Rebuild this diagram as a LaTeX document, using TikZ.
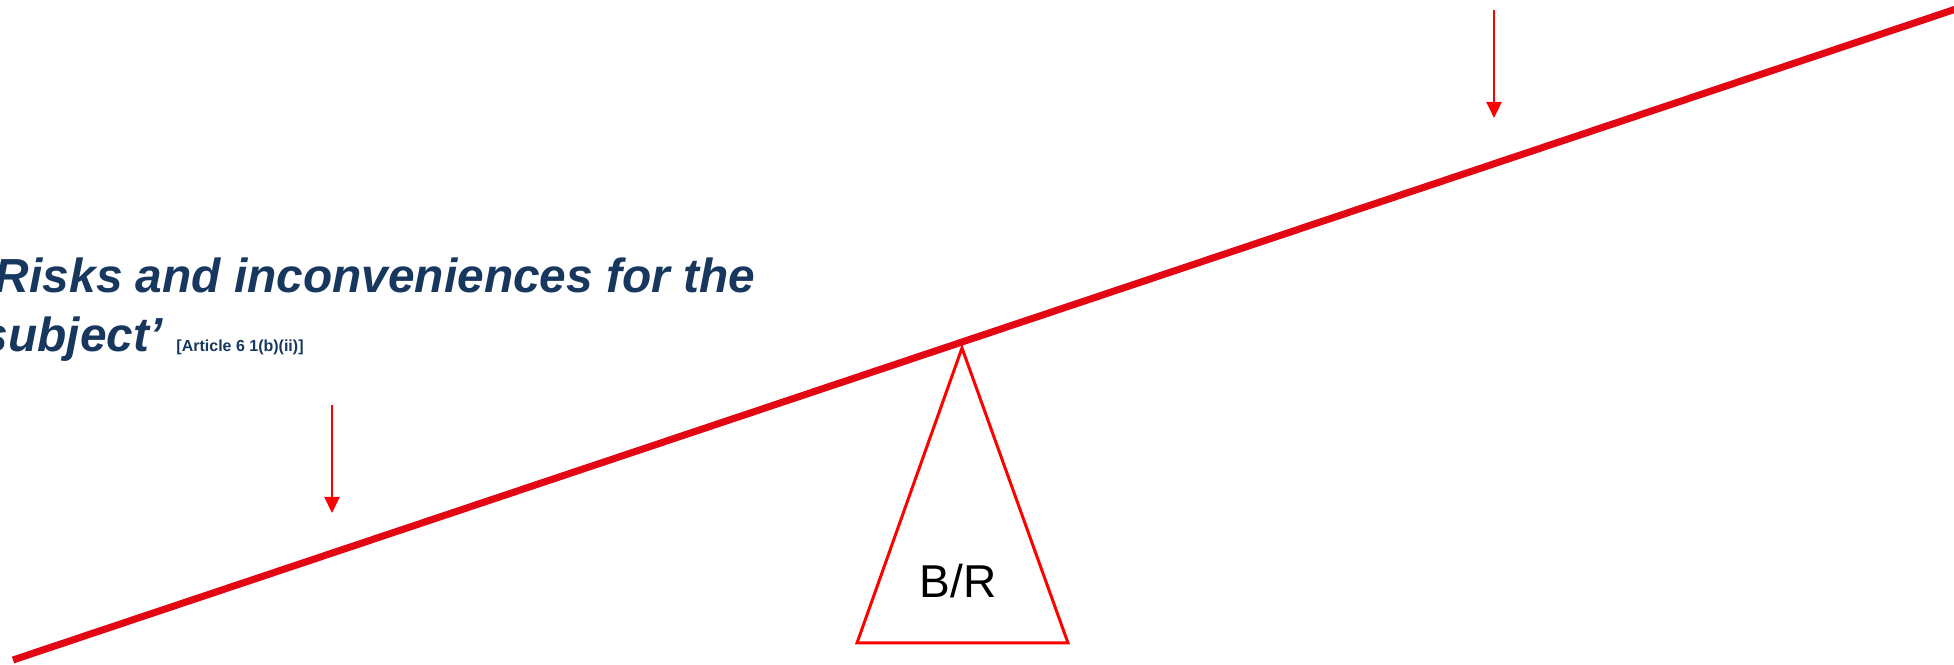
\documentclass[tikz,border=0pt]{standalone}
\usepackage{fontspec}
\setmainfont{Liberation Sans}
\usetikzlibrary{arrows.meta}
\definecolor{beamred}{RGB}{227,6,19}
\definecolor{textblue}{RGB}{23,55,94}
\begin{document}
\begin{tikzpicture}
[x=0.01cm,y=-0.01cm,
 beam/.style={beamred,line width=2pt},
 pivot/.style={red,line width=0.85pt,line join=miter},
 weight/.style={red,line width=0.7pt,-{Triangle[width=4.3pt,length=4.6pt]}},
 risktext/.style={textblue,font=\fontsize{13.6}{16.8}\selectfont\bfseries\itshape,
   align=left,inner sep=0pt,anchor=base west}]
\useasboundingbox (0,0) rectangle (1954,665);
% beam and pivot
\coordinate (beamL) at (13,660);
\coordinate (beamR) at (1962,7);
\coordinate (apex) at (962,348);
\coordinate (baseL) at (857,643);
\coordinate (baseR) at (1068,643);
\draw[pivot] (apex) -- (baseL) -- (baseR) -- cycle;
\draw[beam] (beamL) -- (beamR);
\node[inner sep=0pt,anchor=base,font=\fontsize{13.1}{14}\selectfont] (ratio) at (958,598) {B/R};
% weights
\coordinate (riskTop) at (332,405);
\coordinate (riskTip) at (332,513);
\coordinate (benTop) at (1494,10);
\coordinate (benTip) at (1494,118);
\draw[weight] (riskTop) -- (riskTip);
\draw[weight] (benTop) -- (benTip);
% label (last line sets the base)
\node[risktext] (risks) at (-19,352) {‘Risks and inconveniences for the\\subject’\hspace{4pt}{\fontsize{4.55}{5}\selectfont\upshape [Article 6 1(b)(ii)]}};
\end{tikzpicture}
\end{document}
